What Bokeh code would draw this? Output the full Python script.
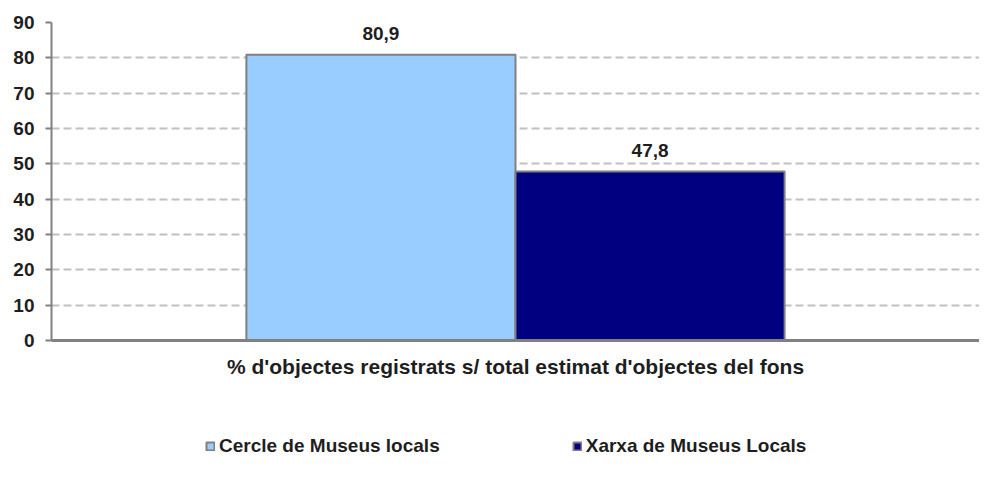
from bokeh.plotting import figure
from bokeh.layouts import column
from bokeh.models import (ColumnDataSource, FactorRange, Range1d, LabelSet, Legend,
                          LegendItem, FixedTicker)
from bokeh.core.properties import value
from bokeh.transform import dodge
from bokeh.embed import file_html
from bokeh.resources import INLINE

category = ["% d'objectes registrats s/ total estimat d'objectes del fons"]
series_names = ["Cercle de Museus locals", "Xarxa de Museus Locals"]
cercle_values = [80.9]
xarxa_values = [47.8]
y_ticks = [0, 10, 20, 30, 40, 50, 60, 70, 80, 90]

colors = ["#99ccff", "#000080"]
FONT = "Liberation Sans"
TXT = "#1e1e1e"
W = 979

src1 = ColumnDataSource(dict(cat=category, val=cercle_values,
                             lab=[f"{v:.1f}".replace(".", ",") for v in cercle_values]))
src2 = ColumnDataSource(dict(cat=category, val=xarxa_values,
                             lab=[f"{v:.1f}".replace(".", ",") for v in xarxa_values]))

xr = FactorRange(factors=category, range_padding=0)
p = figure(width=W, height=400, output_backend="svg", toolbar_location=None,
           x_range=xr, y_range=Range1d(0, 90))
p.min_border_left = 51
p.min_border_right = 0
p.min_border_top = 22
p.min_border_bottom = 60
p.outline_line_color = None

bw = 0.29
bar_kw = dict(width=bw, line_color="#808080", line_width=2)
r1 = p.vbar(x=dodge("cat", -bw / 2, range=xr), top="val", source=src1,
            fill_color=colors[0], **bar_kw)
r2 = p.vbar(x=dodge("cat", bw / 2, range=xr), top="val", source=src2,
            fill_color=colors[1], **bar_kw)

for src, off in ((src1, -bw / 2), (src2, bw / 2)):
    p.add_layout(LabelSet(x=dodge("cat", off, range=xr), y="val", text="lab",
                          source=src, text_align="center", text_baseline="bottom",
                          y_offset=15, text_font=value(FONT), text_font_style="bold",
                          text_font_size="19px", text_color=TXT))

# grid
p.xgrid.grid_line_color = None
p.ygrid.grid_line_color = "#c0c0c0"
p.ygrid.grid_line_dash = "8 4"
p.ygrid.grid_line_width = 2
p.ygrid.ticker = FixedTicker(ticks=y_ticks)
p.ygrid.level = "underlay"

# axes
p.yaxis.ticker = FixedTicker(ticks=y_ticks)
p.yaxis.axis_line_color = "#808080"
p.yaxis.axis_line_width = 2
p.yaxis.major_tick_line_color = "#808080"
p.yaxis.major_tick_line_width = 2
p.yaxis.major_tick_out = 6
p.yaxis.major_tick_in = 0
p.yaxis.minor_tick_line_color = None
p.yaxis.major_label_text_font = FONT
p.yaxis.major_label_text_font_style = "bold"
p.yaxis.major_label_text_font_size = "19px"
p.yaxis.major_label_text_color = TXT
p.yaxis.major_label_standoff = 11

p.xaxis.axis_line_color = "#808080"
p.xaxis.axis_line_width = 3
p.xaxis.major_tick_line_color = None
p.xaxis.minor_tick_line_color = None
p.xaxis.major_label_text_font = FONT
p.xaxis.major_label_text_font_style = "bold"
p.xaxis.major_label_text_font_size = "21px"
p.xaxis.major_label_text_color = TXT
p.xaxis.major_label_standoff = 8

# legend strip below the chart (its frame is aligned with the chart's frame)
lf = figure(width=W, height=76, output_backend="svg", toolbar_location=None,
            x_range=xr, y_range=Range1d(0, 1), x_axis_type=None, y_axis_type=None,
            min_border=0)
lf.outline_line_color = None
lf.xgrid.visible = False
lf.ygrid.visible = False
l1 = lf.vbar(x=dodge("cat", -bw / 2, range=xr), top="val", source=src1,
             fill_color=colors[0], visible=False, **bar_kw)
l2 = lf.vbar(x=dodge("cat", bw / 2, range=xr), top="val", source=src2,
             fill_color=colors[1], visible=False, **bar_kw)
lg = Legend(items=[LegendItem(label=series_names[0], renderers=[l1]),
                   LegendItem(label=series_names[1], renderers=[l2])],
            location=(154, 19), orientation="horizontal", padding=0, margin=0,
            spacing=132, glyph_width=10, glyph_height=10, label_standoff=4,
            label_text_font=FONT, label_text_font_style="bold",
            label_text_font_size="19px", label_text_color=TXT,
            inactive_fill_alpha=0,
            border_line_color=None, background_fill_alpha=0)
lf.add_layout(lg, "center")

layout = column(p, lf, spacing=0)
open("out.html", "w").write(file_html(layout, INLINE))
